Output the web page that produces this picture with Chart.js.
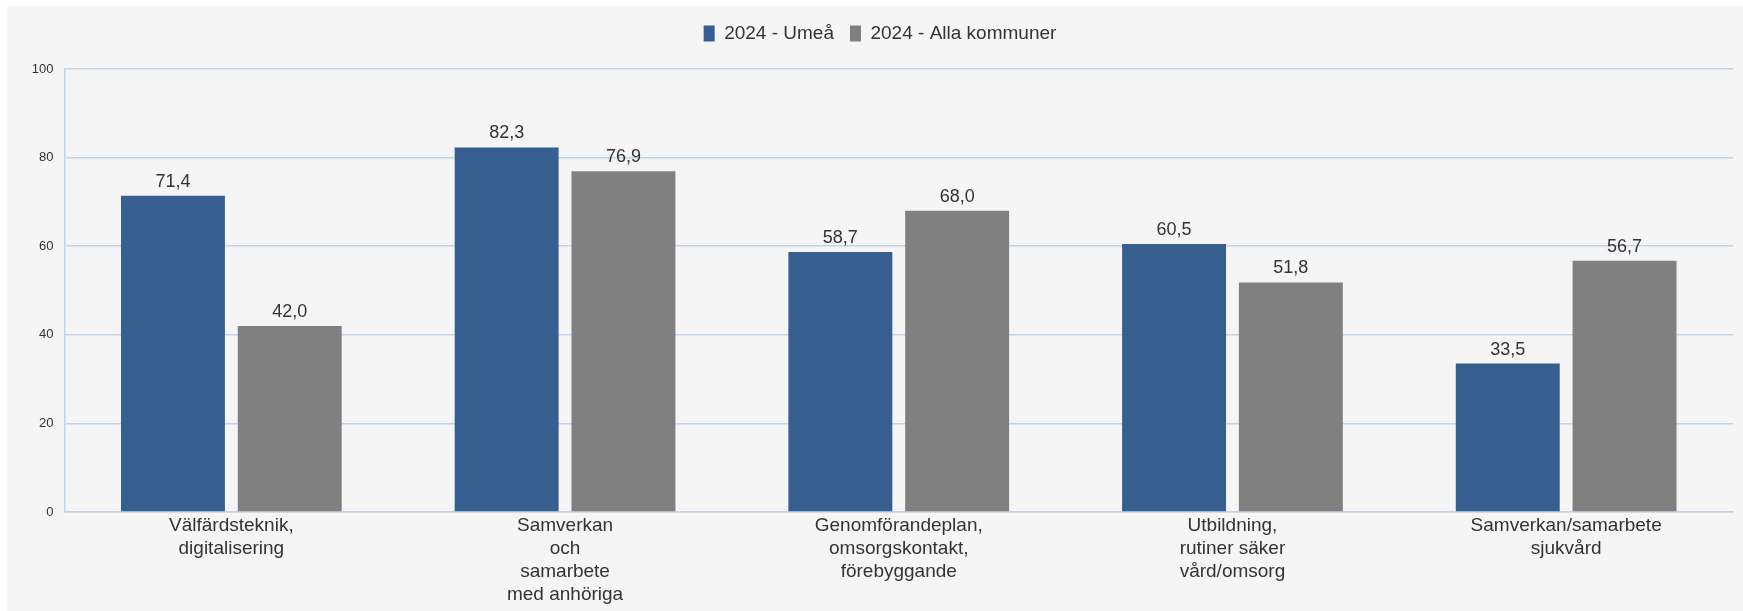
<!DOCTYPE html>
<html>
<head>
<meta charset="utf-8">
<script src="https://cdn.jsdelivr.net/npm/chart.js@4.4.1/dist/chart.umd.min.js"></script>
<style>
  html, body { margin: 0; padding: 0; background: #ffffff; }
  #wrap { position: absolute; left: 7px; top: 6px; width: 1736px; height: 605px; background: #f5f5f5; }
</style>
</head>
<body>
<div id="wrap"><canvas id="chart"></canvas></div>
<script>
// Chart data
const categories = [
  ['Välfärdsteknik,', 'digitalisering'],
  ['Samverkan', 'och', 'samarbete', 'med anhöriga'],
  ['Genomförandeplan,', 'omsorgskontakt,', 'förebyggande'],
  ['Utbildning,', 'rutiner säker', 'vård/omsorg'],
  ['Samverkan/samarbete', 'sjukvård']
];
const seriesNames = ['2024 - Umeå', '2024 - Alla kommuner'];
const umeaValues = [71.4, 82.3, 58.7, 60.5, 33.5];
const allaValues = [42.0, 76.9, 68.0, 51.8, 56.7];
const yTicks = [0, 20, 40, 60, 80, 100];

// Colours
const blue = '#365f8f';
const grey = '#808080';
const gridColor = '#c3d4ea';
const textColor = '#333333';
const fontFamily = '"Liberation Sans", Arial, sans-serif';

// Draw value labels above bars, comma decimals
const valueLabels = {
  id: 'valueLabels',
  afterDatasetsDraw(chart) {
    const ctx = chart.ctx;
    ctx.save();
    ctx.font = `18px ${fontFamily}`;
    ctx.fillStyle = textColor;
    ctx.textAlign = 'center';
    ctx.textBaseline = 'middle';
    chart.data.datasets.forEach((ds, i) => {
      chart.getDatasetMeta(i).data.forEach((bar, j) => {
        const txt = ds.data[j].toFixed(1).replace('.', ',');
        ctx.fillText(txt, bar.x, bar.y - 14);
      });
    });
    ctx.restore();
  }
};

// Extra space below legend, and nudge it a little to the right
const legendSpacing = {
  id: 'legendSpacing',
  beforeInit(chart) {
    const origFit = chart.legend.fit;
    chart.legend.fit = function () {
      origFit.bind(chart.legend)();
      this.height += 16;
    };
  },
  afterLayout(chart) {
    chart.legend.left += 10;
    chart.legend.right += 10;
  }
};

const ctx = document.getElementById('chart').getContext('2d');
new Chart(ctx, {
  type: 'bar',
  data: {
    labels: categories,
    datasets: [
      { label: seriesNames[0], data: umeaValues, backgroundColor: blue },
      { label: seriesNames[1], data: allaValues, backgroundColor: grey }
    ]
  },
  options: {
    responsive: true,
    maintainAspectRatio: false,
    animation: false,
    categoryPercentage: 0.70,
    barPercentage: 0.89,
    layout: { padding: { left: 0, right: 10, top: 2, bottom: 0 } },
    plugins: {
      tooltip: { enabled: false },
      legend: {
        display: true,
        position: 'top',
        labels: {
          boxWidth: 11,
          boxHeight: 16,
          padding: 16,
          color: textColor,
          font: { family: fontFamily, size: 19 }
        }
      }
    },
    scales: {
      x: {
        grid: { display: false, drawTicks: false },
        border: { display: true, color: gridColor, width: 1.5 },
        ticks: {
          color: textColor,
          padding: 2,
          maxRotation: 0,
          autoSkip: false,
          font: { family: fontFamily, size: 19, lineHeight: 1.21 }
        },
        afterFit(scale) { scale.height = 99; }
      },
      y: {
        min: 0,
        max: 100,
        afterBuildTicks(scale) { scale.ticks = yTicks.map(v => ({ value: v })); },
        grid: { color: gridColor, lineWidth: 1.5, drawTicks: false },
        border: { display: true, color: gridColor, width: 1.5 },
        ticks: {
          color: textColor,
          padding: 11,
          font: { family: fontFamily, size: 13 }
        },
        afterFit(scale) { scale.width = 57.5; }
      }
    }
  },
  plugins: [valueLabels, legendSpacing]
});
</script>
</body>
</html>
